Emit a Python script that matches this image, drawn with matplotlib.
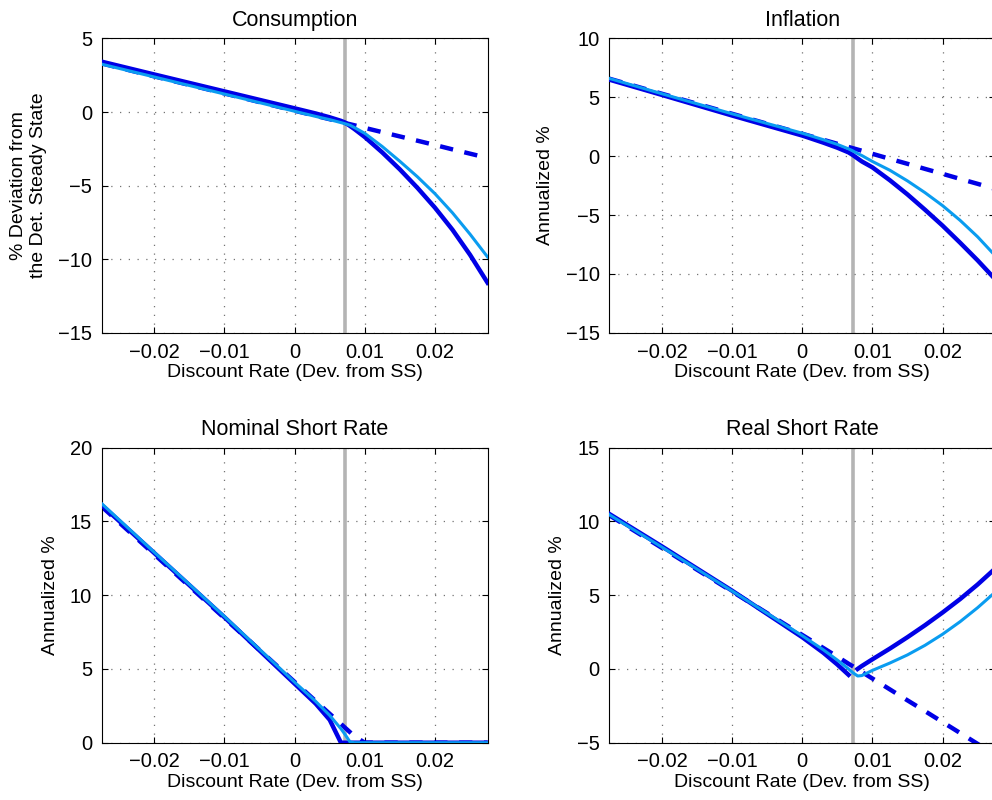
import numpy as np
import matplotlib
matplotlib.use("Agg")
import matplotlib.pyplot as plt

plt.rcParams['font.family'] = ['Liberation Sans', 'DejaVu Sans']

# discount rate grid (dev. from SS)
x = [-0.0275, -0.02, -0.01, 0.0, 0.003, 0.005, 0.0066, 0.0072, 0.0079, 0.0085,
     0.01, 0.0125, 0.015, 0.0175, 0.02, 0.0225, 0.025, 0.0275]
zlb = 0.0072
nan = np.nan

# consumption
cons_lin = [3.30, 2.42, 1.26, 0.09, -0.26, -0.49, -0.68, -0.75, -0.83, -0.90,
            -1.08, -1.37, -1.66, -1.95, -2.24, -2.54, -2.83, -3.12]
cons_dark = [3.42, 2.55, 1.40, 0.25, -0.10, -0.36, -0.60, -0.72, -0.95, -1.15,
             -1.70, -2.75, -3.90, -5.15, -6.50, -8.00, -9.70, -11.6]
cons_light = [3.25, 2.38, 1.22, 0.05, -0.30, -0.52, -0.72, -0.80, -0.90, -1.05,
              -1.45, -2.35, -3.35, -4.40, -5.55, -6.85, -8.30, -9.85]

# inflation
infl_lin = [6.58, 5.30, 3.60, 1.90, 1.39, 1.05, 0.78, 0.68, 0.56, 0.46,
            0.20, -0.23, -0.65, -1.08, -1.50, -1.93, -2.35, -2.78]
infl_dark = [6.50, 5.20, 3.45, 1.75, 1.15, 0.72, 0.32, 0.10, -0.20, -0.45,
             -0.95, -2.05, -3.25, -4.55, -5.90, -7.35, -8.85, -10.45]
infl_light = [6.60, 5.30, 3.60, 1.95, 1.40, 1.00, 0.62, 0.45, 0.22, 0.05,
              -0.45, -1.20, -2.10, -3.10, -4.20, -5.45, -6.85, -8.45]

# nominal short rate
nom_lin = [16.0, 12.76, 8.44, 4.12, 2.82, 1.96, 1.27, 1.01, 0.71, 0.45,
           0, 0, 0, 0, 0, 0, 0, 0]
nom_dark = [16.1, 12.85, 8.50, 4.00, 2.65, 1.55, 0.0, 0, 0, 0,
            0, 0, 0, 0, 0, 0, 0, 0]
nom_light = [16.2, 12.90, 8.55, 4.10, 2.80, 1.85, 0.95, 0.55, 0.05, 0,
             0, 0, 0, 0, 0, 0, 0, 0]

# real short rate
real_lin = [10.41, 8.20, 5.25, 2.30, 1.42, 0.83, 0.35, 0.18, -0.03, -0.21,
            -0.65, -1.39, -2.13, -2.86, -3.60, -4.34, -5.08, -5.81]
real_dark = [10.5, 8.30, 5.30, 2.15, 1.10, 0.30, -0.40, nan, 0.0, 0.20,
             0.65, 1.38, 2.15, 2.96, 3.82, 4.73, 5.72, 6.80]
real_light = [10.45, 8.25, 5.28, 2.25, 1.30, 0.60, 0.0, -0.25, -0.48, -0.45,
              -0.10, 0.40, 0.95, 1.60, 2.35, 3.20, 4.15, 5.20]

titles = ["Consumption", "Inflation", "Nominal Short Rate", "Real Short Rate"]
ylabels = ["% Deviation from\nthe Det. Steady State", "Annualized %",
           "Annualized %", "Annualized %"]
ylims = [(-15, 5), (-15, 10), (0, 20), (-5, 15)]
series = [(cons_lin, cons_dark, cons_light),
          (infl_lin, infl_dark, infl_light),
          (nom_lin, nom_dark, nom_light),
          (real_lin, real_dark, real_light)]

dark = '#0000e6'
light = '#0a9cf0'

fig = plt.figure(figsize=(9.92, 8), dpi=100)
boxes = [[0.1025, 0.584, 0.389, 0.368],
         [0.6142, 0.584, 0.389, 0.368],
         [0.1025, 0.0716, 0.389, 0.369],
         [0.6142, 0.0716, 0.389, 0.369]]

for i in range(4):
    ax = fig.add_axes(boxes[i])
    lin, d, l = series[i]
    ax.axvline(zlb, color='#b4b4b4', lw=2.6, zorder=1)
    ax.plot(x, lin, color=dark, lw=3.2, dashes=(3.0, 2.6), zorder=2)
    ax.plot(x, d, color=dark, lw=3.2, zorder=3)
    ax.plot(x, l, color=light, lw=2.2, zorder=4)
    ax.set_xlim(-0.0275, 0.0275)
    ax.set_ylim(*ylims[i])
    ax.set_xticks([-0.02, -0.01, 0, 0.01, 0.02])
    ax.set_xticklabels(['\u22120.02', '\u22120.01', '0', '0.01', '0.02'])
    ax.set_yticks(np.arange(ylims[i][0], ylims[i][1] + 1, 5))
    ax.grid(True, color='0.45', lw=0.9, linestyle=(0, (1, 6)))
    ax.tick_params(direction='in', length=4, top=True, right=True,
                   labelsize=14.5, pad=7)
    for s in ax.spines.values():
        s.set_linewidth(0.8)
    ax.set_title(titles[i], fontsize=15.5, pad=9)
    ax.set_xlabel('Discount Rate (Dev. from SS)', fontsize=14, labelpad=2)
    ax.set_ylabel(ylabels[i], fontsize=14, labelpad=8)

fig.savefig('out.png', dpi=100)
